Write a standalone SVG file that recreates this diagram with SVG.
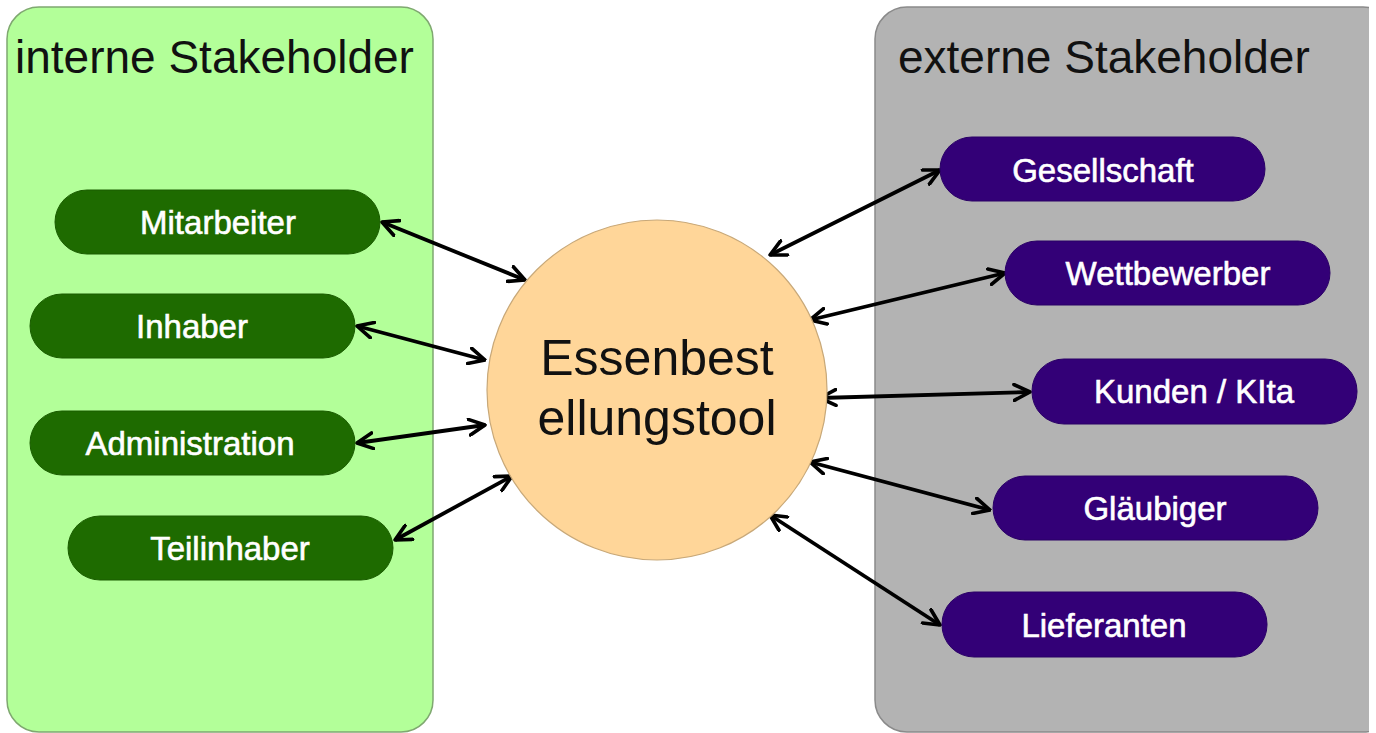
<svg xmlns="http://www.w3.org/2000/svg" width="1376" height="733" viewBox="0 0 1376 733">
<defs>
<marker id="ah" viewBox="0 0 12 12" refX="11" refY="6" markerWidth="19" markerHeight="19" markerUnits="userSpaceOnUse" orient="auto-start-reverse">
<path d="M1,1 L11,6 L1,11" fill="none" stroke="#000" stroke-width="2.3" stroke-linecap="round" stroke-linejoin="round"/>
</marker>
<clipPath id="pageclip"><rect x="0" y="0" width="1369" height="733"/></clipPath>
<style>
.title{font-family:"Liberation Sans",Arial,sans-serif;font-size:46px;fill:#111;}
.lbl{font-family:"Liberation Sans",Arial,sans-serif;font-size:33px;fill:#fff;stroke:#fff;stroke-width:0.6;text-anchor:middle;dominant-baseline:central;}
.gn{fill:#1e6b00;stroke:#1a5c00;stroke-width:1;}
.pn{fill:#330077;stroke:#2a0066;stroke-width:1;}
.con line{stroke:#000;stroke-width:3.8;marker-start:url(#ah);marker-end:url(#ah);}
</style>
</defs>
<rect width="1376" height="733" fill="#fff"/>
<g id="internal-panel">
<rect x="7" y="7" width="426" height="725" rx="32" fill="#b3ff99" stroke="#7fa870" stroke-width="1.5"/>
<text class="title" x="15" y="73">interne Stakeholder</text>
</g>
<g id="external-panel">
<rect x="875" y="7" width="520" height="725" rx="32" fill="#b3b3b3" stroke="#8a8a8a" stroke-width="1.5" clip-path="url(#pageclip)"/>
<text class="title" x="898" y="73">externe Stakeholder</text>
</g>
<g class="con" id="connectors">
<line x1="382" y1="222" x2="525" y2="280"/>
<line x1="357" y1="326" x2="485" y2="360"/>
<line x1="357" y1="443" x2="485" y2="425"/>
<line x1="395" y1="540" x2="512" y2="476"/>
<line x1="940" y1="170" x2="770" y2="255"/>
<line x1="1005" y1="273" x2="810" y2="320"/>
<line x1="1030" y1="392" x2="820" y2="398"/>
<line x1="990" y1="510" x2="810" y2="462"/>
<line x1="940" y1="625" x2="770" y2="515"/>
</g>
<g id="center">
<circle cx="657" cy="390" r="170" fill="#ffd699" stroke="#c8a878" stroke-width="1.2"/>
<text x="657" y="375" font-family="Liberation Sans,Arial,sans-serif" font-size="50" fill="#111" text-anchor="middle">Essenbest</text>
<text x="657" y="435" font-family="Liberation Sans,Arial,sans-serif" font-size="50" fill="#111" text-anchor="middle">ellungstool</text>
</g>
<g id="mitarbeiter"><rect class="gn" x="55" y="190" width="325" height="64" rx="32"/><text class="lbl" x="218" y="222">Mitarbeiter</text></g>
<g id="inhaber"><rect class="gn" x="30" y="294" width="325" height="64" rx="32"/><text class="lbl" x="192" y="326">Inhaber</text></g>
<g id="administration"><rect class="gn" x="30" y="411" width="325" height="64" rx="32"/><text class="lbl" x="190" y="443">Administration</text></g>
<g id="teilinhaber"><rect class="gn" x="68" y="516" width="325" height="64" rx="32"/><text class="lbl" x="230" y="548">Teilinhaber</text></g>
<g id="gesellschaft"><rect class="pn" x="940" y="137" width="325" height="64" rx="32"/><text class="lbl" x="1103" y="170">Gesellschaft</text></g>
<g id="wettbewerber"><rect class="pn" x="1005" y="241" width="325" height="64" rx="32"/><text class="lbl" x="1168" y="273">Wettbewerber</text></g>
<g id="kunden"><rect class="pn" x="1032" y="359" width="325" height="65" rx="32"/><text class="lbl" x="1194" y="391">Kunden / KIta</text></g>
<g id="glaeubiger"><rect class="pn" x="993" y="476" width="325" height="64" rx="32"/><text class="lbl" x="1155" y="508">Gläubiger</text></g>
<g id="lieferanten"><rect class="pn" x="942" y="592" width="325" height="65" rx="32"/><text class="lbl" x="1104" y="625">Lieferanten</text></g>
</svg>
